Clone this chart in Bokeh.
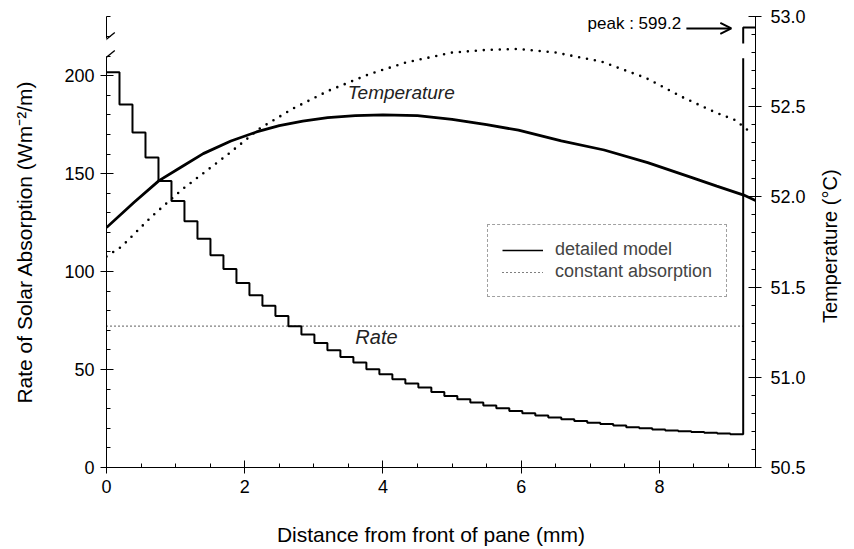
import numpy as np
from bokeh.plotting import figure
from bokeh.models import (Range1d, LinearAxis, FixedTicker, PrintfTickFormatter,
                          Label, Arrow, OpenHead, Legend, LegendItem)
from bokeh.embed import file_html
from bokeh.resources import INLINE

# ---------------- data ----------------
layer_thickness = 0.188           # mm, width of each step of the absorption profile
rate_steps = [201.7, 185.3, 171.0, 158.2, 146.2, 136.0, 125.7, 116.8, 108.3, 101.3,
              94.2, 87.9, 82.5, 77.3, 72.1, 67.9, 63.6, 59.8, 56.4, 53.6,
              50.2, 47.6, 45.0, 42.9, 40.8, 38.6, 36.5, 34.8, 33.2, 31.6,
              30.2, 28.9, 27.7, 26.6, 25.5, 24.6, 23.7, 22.9, 22.2, 21.5,
              20.6, 20.0, 19.4, 18.9, 18.5, 18.1, 17.7, 17.3, 17.0]
pane_end = 9.39                   # mm
peak_rate = 599.2                 # absorption of the back layer (off scale)
constant_rate = 72.2

temp_x = [0, 0.4, 0.76, 1.1, 1.4, 1.8, 2.17, 2.5, 2.84, 3.2, 3.6, 4.0, 4.5, 5.0,
          5.5, 5.96, 6.58, 7.2, 7.83, 8.45, 8.83, 9.22, 9.39]
temp_detailed = [51.83, 51.97, 52.09, 52.17, 52.24, 52.31, 52.36, 52.395, 52.42, 52.44,
                 52.45, 52.455, 52.45, 52.43, 52.40, 52.37, 52.31, 52.26, 52.19, 52.11,
                 52.06, 52.01, 51.98]
const_x = [0, 0.22, 0.65, 1.09, 1.77, 2.22, 2.7, 3.22, 3.8, 4.33, 5.0, 5.5, 5.96, 6.5,
           7.16, 7.8, 8.35, 8.8, 9.1, 9.31]
temp_constant = [51.67, 51.725, 51.89, 52.04, 52.24, 52.38, 52.49, 52.59, 52.68, 52.745,
                 52.80, 52.815, 52.82, 52.80, 52.75, 52.66, 52.55, 52.47, 52.425, 52.36]

x_ticks = [0, 2, 4, 6, 8]
rate_ticks = [0, 50, 100, 150, 200]
temp_ticks = [50.5, 51.0, 51.5, 52.0, 52.5, 53.0]

# broken-axis display constants
RATE_TOP = 230.2
BREAK_LO, BREAK_HI = 209.4, 218.6
PEAK_SHOWN = 224.6

FONT = "Liberation Sans"
NB = "\u00a0"

p = figure(width=854, height=549, output_backend="svg", toolbar_location=None,
           x_range=Range1d(0, pane_end), y_range=Range1d(0, RATE_TOP),
           min_border_left=106, min_border_right=98, min_border_top=16, min_border_bottom=82)
p.outline_line_color = None
p.grid.visible = False
p.background_fill_color = "white"
p.extra_y_ranges = {"temp": Range1d(50.5, 53.0)}

# ---- axes ----
xa = p.xaxis[0]
xa.ticker = FixedTicker(ticks=x_ticks, minor_ticks=list(np.arange(0, 9.01, 0.5)))
ya = p.yaxis[0]
ya.ticker = FixedTicker(ticks=rate_ticks, minor_ticks=list(range(0, 231, 10)))
ra = LinearAxis(y_range_name="temp",
                ticker=FixedTicker(ticks=temp_ticks,
                                   minor_ticks=[round(50.5 + 0.1 * i, 1) for i in range(26)]),
                formatter=PrintfTickFormatter(format="%.1f"))
p.add_layout(ra, "right")
for ax in (xa, ya, ra):
    ax.major_label_text_font = FONT
    ax.major_label_text_font_size = "18px"
    ax.major_label_text_color = "black"
    ax.major_tick_line_color = "black"
    ax.minor_tick_line_color = "black"
    ax.axis_line_color = "black"
    ax.major_tick_in = 7
    ax.major_tick_out = 6
    ax.minor_tick_in = 4
    ax.minor_tick_out = 0
    ax.major_label_standoff = 6
    ax.axis_label_text_font = FONT
    ax.axis_label_text_font_size = "21px"
    ax.axis_label_text_font_style = "normal"
    ax.axis_label_text_color = "black"
ra.major_label_standoff = 9

# axis break on the left axis: gap in the axis line between the two slashes
ya.axis_line_dash = "411 18 60"

# titles
ya.axis_label = "Rate of Solar Absorption (Wm\u207b\u00b2/m)"
ya.axis_label_standoff = 25
ra.axis_label_orientation = np.pi / 2
ra.axis_label_standoff = 21
ra.axis_label_text_font_size = "20px"
ra.axis_label_align = "start"
ra.axis_label = NB * 26 + "Temperature (\u00b0C)"
xa.axis_label = "Distance from front of pane (mm)"
xa.axis_label_standoff = 27

for yb in (BREAK_LO, BREAK_HI):
    p.add_layout(Arrow(end=None, x_start=-0.12, y_start=yb - 3.4, x_end=0.12, y_end=yb + 3.4,
                       line_color="black", line_width=1.3))

# ---- rate step profile ----
edges = [i * layer_thickness for i in range(len(rate_steps) + 1)]
sx, sy = [], []
for i, v in enumerate(rate_steps):
    sx += [edges[i], edges[i + 1]]
    sy += [v, v]
bulk_end = edges[-1]
sx += [bulk_end, np.nan, bulk_end, bulk_end, pane_end]
sy += [BREAK_LO - 0.5, np.nan, BREAK_HI - 2.2, PEAK_SHOWN, PEAK_SHOWN]
p.line(sx, sy, line_color="black", line_width=2)

# constant absorption rate
p.line([0, bulk_end], [constant_rate, constant_rate], line_color="black",
       line_width=1.2, line_dash="1 3")

# ---- temperatures ----
p.line(temp_x, temp_detailed, y_range_name="temp", line_color="black", line_width=2.8)
p.line(const_x, temp_constant, y_range_name="temp", line_color="black", line_width=2.6,
       line_dash="0 8", line_cap="round")

# ---- legend (sample renderers kept outside the visible ranges) ----
r1 = p.line(x=[-20, -19], y=[-50, -50], line_color="black", line_width=1.5)
r2 = p.line(x=[-20, -19], y=[-50, -50], line_color="black", line_width=1.2, line_dash="1 3")
leg = Legend(items=[LegendItem(label="detailed model", renderers=[r1]),
                    LegendItem(label="constant absorption", renderers=[r2])],
             location=(381, 170), padding=14, margin=0, spacing=1,
             glyph_width=41, glyph_height=20, label_height=20, label_standoff=12,
             label_text_font=FONT, label_text_font_size="18px",
             border_line_color="#444444", border_line_dash="1 1", border_line_width=1,
             background_fill_color="white", background_fill_alpha=1)
p.add_layout(leg)

# ---- annotations ----
p.add_layout(Label(x=3.49, y=185.9, text="Temperature", text_font=FONT,
                   text_font_size="19px", text_font_style="italic", text_color="#222222"))
p.add_layout(Label(x=3.6, y=60.9, text="Rate", text_font=FONT,
                   text_font_size="20px", text_font_style="italic", text_color="#222222"))
p.add_layout(Label(x=6.96, y=221.6, text="peak : %.1f" % peak_rate, text_font=FONT,
                   text_font_size="17px", text_color="black"))
p.add_layout(Arrow(end=OpenHead(size=11, line_width=2, line_color="black"),
                   x_start=8.39, y_start=224.1, x_end=9.04, y_end=224.1,
                   line_color="black", line_width=2))

open("out.html", "w").write(file_html(p, INLINE))
